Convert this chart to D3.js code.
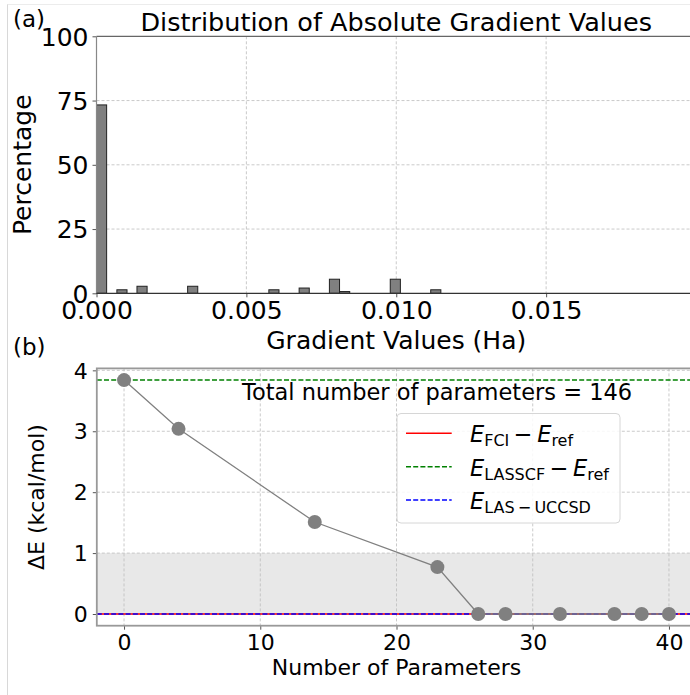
<!DOCTYPE html>
<html>
<head>
<meta charset="utf-8">
<script src="https://cdn.jsdelivr.net/npm/d3@7"></script>
<style>
  html, body { margin: 0; padding: 0; background: #fff; }
  svg { display: block; font-family: "DejaVu Sans", sans-serif; }
</style>
</head>
<body>
<svg id="chart" width="690" height="695"></svg>
<script>
// ---------- Data ----------
// (a) histogram of absolute gradient values
const binStarts = [0, 0.00068, 0.00135, 0.00304, 0.00575, 0.00676, 0.00777, 0.00811, 0.0098, 0.01115];
const binWidth = 0.000338;
const percentages = [73.3, 1.37, 2.74, 2.74, 1.37, 2.05, 5.48, 0.68, 5.48, 1.37];
const histXTicks = [0, 0.005, 0.010, 0.015];
const histYTicks = [0, 25, 50, 75, 100];

// (b) energy error vs number of parameters
const numParams = [0, 4, 14, 23, 26, 28, 32, 36, 38, 40];
const deltaE = [3.84, 3.04, 1.51, 0.77, 0, 0, 0, 0, 0, 0];
const fciLine = 0;
const lasscfLine = 3.84;
const lasUccsdLine = 0;
const chemAccBand = [0, 1];
const paramXTicks = [0, 10, 20, 30, 40];
const energyYTicks = [0, 1, 2, 3, 4];
const totalParams = 146;

// ---------- Setup ----------
const svg = d3.select("#chart");
const FONT = "DejaVu Sans, sans-serif";

// figure border (faint)
svg.append("line").attr("x1", 7.5).attr("x2", 7.5).attr("y1", 4).attr("y2", 695)
  .attr("stroke", "#d8d8d8").attr("stroke-width", 1);
svg.append("line").attr("x1", 7.5).attr("x2", 690).attr("y1", 4.5).attr("y2", 4.5)
  .attr("stroke", "#ececec").attr("stroke-width", 1);

const gridStyle = sel => sel.attr("stroke", "#bdbdbd").attr("stroke-width", 0.8)
  .attr("stroke-dasharray", "3,2");

// ---------- Panel (a) ----------
const A = {L: 96.5, R: 696, T: 36.3, B: 293.3};
const xa = d3.scaleLinear().domain([0, 0.02]).range([A.L, A.R]);
const ya = d3.scaleLinear().domain([0, 100]).range([A.B, A.T]);
const ga = svg.append("g");

// grid
ga.selectAll(".gx").data(histXTicks.slice(1)).enter().append("line")
  .attr("x1", d => xa(d)).attr("x2", d => xa(d)).attr("y1", A.T).attr("y2", A.B).call(gridStyle);
ga.selectAll(".gy").data(histYTicks.slice(1, 4)).enter().append("line")
  .attr("x1", A.L).attr("x2", A.R).attr("y1", d => ya(d)).attr("y2", d => ya(d)).call(gridStyle);

// bars
ga.selectAll(".bar").data(binStarts.map((s, i) => ({s, p: percentages[i]}))).enter().append("rect")
  .attr("x", d => xa(d.s)).attr("width", d => xa(d.s + binWidth) - xa(d.s))
  .attr("y", d => ya(d.p)).attr("height", d => ya(0) - ya(d.p))
  .attr("fill", "#808080").attr("stroke", "#222").attr("stroke-width", 1);

// axes
const axA_x = ga.append("g").attr("transform", `translate(0,${A.B})`)
  .call(d3.axisBottom(xa).tickValues(histXTicks).tickFormat(d3.format(".3f")).tickSize(4).tickPadding(5));
const axA_y = ga.append("g").attr("transform", `translate(${A.L},0)`)
  .call(d3.axisLeft(ya).tickValues(histYTicks).tickFormat(d3.format("d")).tickSize(4).tickPadding(4));
[axA_x, axA_y].forEach(ax => {
  ax.select(".domain").remove();
  ax.selectAll("text").attr("font-family", FONT).attr("font-size", 25).attr("fill", "#000");
  ax.selectAll(".tick line").attr("stroke", "#555");
});
axA_x.selectAll("text").attr("dy", null).attr("y", 26);
axA_y.selectAll("text").attr("dy", "0.35em");

// spines
ga.append("line").attr("x1", A.L).attr("x2", A.R).attr("y1", A.T).attr("y2", A.T).attr("stroke", "#666").attr("stroke-width", 1.2);
ga.append("line").attr("x1", A.L).attr("x2", A.L).attr("y1", A.T).attr("y2", A.B).attr("stroke", "#888").attr("stroke-width", 1.2);
ga.append("line").attr("x1", A.L).attr("x2", A.R).attr("y1", A.B).attr("y2", A.B).attr("stroke", "#333").attr("stroke-width", 1.2);

// labels
svg.append("text").attr("x", (A.L + A.R) / 2).attr("y", 30.5).attr("text-anchor", "middle")
  .attr("font-family", FONT).attr("font-size", 25.5).text("Distribution of Absolute Gradient Values");
svg.append("text").attr("x", (A.L + A.R) / 2).attr("y", 348.5).attr("text-anchor", "middle")
  .attr("font-family", FONT).attr("font-size", 25).text("Gradient Values (Ha)");
svg.append("text").attr("transform", `translate(31,${(A.T + A.B) / 2}) rotate(-90)`)
  .attr("text-anchor", "middle").attr("font-family", FONT).attr("font-size", 25).text("Percentage");
svg.append("text").attr("x", 13).attr("y", 27).attr("font-family", FONT).attr("font-size", 23).text("(a)");

// ---------- Panel (b) ----------
const Bp = {L: 96.8, R: 696.2, T: 368.4, B: 625.7};
const xb = d3.scaleLinear().domain([-2, 42]).range([Bp.L, Bp.R]);
const yb = d3.scaleLinear().domain([-0.192, 4.032]).range([Bp.B, Bp.T]);
const gb = svg.append("g");

// chemical accuracy band
gb.append("rect").attr("x", Bp.L).attr("width", Bp.R - Bp.L)
  .attr("y", yb(chemAccBand[1])).attr("height", yb(chemAccBand[0]) - yb(chemAccBand[1]))
  .attr("fill", "#e8e8e8");

// grid
gb.selectAll(".gx").data(paramXTicks).enter().append("line")
  .attr("x1", d => xb(d)).attr("x2", d => xb(d)).attr("y1", Bp.T).attr("y2", Bp.B).call(gridStyle);
gb.selectAll(".gy").data(energyYTicks).enter().append("line")
  .attr("x1", Bp.L).attr("x2", Bp.R).attr("y1", d => yb(d)).attr("y2", d => yb(d)).call(gridStyle);

// reference lines
gb.append("line").attr("x1", Bp.L).attr("x2", Bp.R).attr("y1", yb(fciLine)).attr("y2", yb(fciLine))
  .attr("stroke", "#ff0000").attr("stroke-width", 1.5);
gb.append("line").attr("x1", Bp.L).attr("x2", Bp.R).attr("y1", yb(lasscfLine)).attr("y2", yb(lasscfLine))
  .attr("stroke", "#008000").attr("stroke-width", 1.5).attr("stroke-dasharray", "5,2.2");
gb.append("line").attr("x1", Bp.L).attr("x2", Bp.R).attr("y1", yb(lasUccsdLine)).attr("y2", yb(lasUccsdLine))
  .attr("stroke", "#0000ff").attr("stroke-width", 1.5).attr("stroke-dasharray", "5,2.2");

// data line + markers
const pts = numParams.map((n, i) => [n, deltaE[i]]);
gb.append("path").datum(pts)
  .attr("d", d3.line().x(d => xb(d[0])).y(d => yb(d[1])))
  .attr("fill", "none").attr("stroke", "#808080").attr("stroke-width", 1.3);
gb.selectAll(".pt").data(pts).enter().append("circle")
  .attr("cx", d => xb(d[0])).attr("cy", d => yb(d[1])).attr("r", 7)
  .attr("fill", "#808080");

// axes
const axB_x = gb.append("g").attr("transform", `translate(0,${Bp.B})`)
  .call(d3.axisBottom(xb).tickValues(paramXTicks).tickFormat(d3.format("d")).tickSize(4).tickPadding(5));
const axB_y = gb.append("g").attr("transform", `translate(${Bp.L},0)`)
  .call(d3.axisLeft(yb).tickValues(energyYTicks).tickFormat(d3.format("d")).tickSize(4).tickPadding(5));
[axB_x, axB_y].forEach(ax => {
  ax.select(".domain").remove();
  ax.selectAll("text").attr("font-family", FONT).attr("font-size", 22).attr("fill", "#000");
  ax.selectAll(".tick line").attr("stroke", "#555");
});
axB_x.selectAll("text").attr("dy", null).attr("y", 24);
axB_y.selectAll("text").attr("dy", "0.35em");

// spines
gb.append("rect").attr("x", Bp.L).attr("y", Bp.T).attr("width", Bp.R - Bp.L).attr("height", Bp.B - Bp.T)
  .attr("fill", "none").attr("stroke", "#999").attr("stroke-width", 1.8);

// annotation
svg.append("text").attr("x", 242).attr("y", 400).attr("font-family", FONT).attr("font-size", 22.5)
  .text(`Total number of parameters = ${totalParams}`);

// labels
svg.append("text").attr("x", (Bp.L + Bp.R) / 2).attr("y", 675).attr("text-anchor", "middle")
  .attr("font-family", FONT).attr("font-size", 22).text("Number of Parameters");
svg.append("text").attr("transform", `translate(44,${(Bp.T + Bp.B) / 2}) rotate(-90)`)
  .attr("text-anchor", "middle").attr("font-family", FONT).attr("font-size", 22).text("ΔE (kcal/mol)");
svg.append("text").attr("x", 13).attr("y", 355).attr("font-family", FONT).attr("font-size", 23).text("(b)");

// legend
const leg = svg.append("g");
leg.append("rect").attr("x", 397).attr("y", 413.5).attr("width", 223).attr("height", 109.5)
  .attr("rx", 4).attr("fill", "#fff").attr("fill-opacity", 0.85)
  .attr("stroke", "#d6d6d6").attr("stroke-width", 1);
const legItems = [
  {color: "#ff0000", dash: null, main: "FCI", tail: "ref"},
  {color: "#008000", dash: "5,2.2", main: "LASSCF", tail: "ref"},
  {color: "#0000ff", dash: "5,2.2", main: "LAS\u2009\u2212\u2009UCCSD", tail: null}
];
legItems.forEach((it, i) => {
  const cy = 433.3 + i * 33.4;
  leg.append("line").attr("x1", 406).attr("x2", 451.7).attr("y1", cy).attr("y2", cy)
    .attr("stroke", it.color).attr("stroke-width", 1.5).attr("stroke-dasharray", it.dash);
  const t = leg.append("text").attr("x", 470).attr("y", cy + 9).attr("font-family", FONT).attr("font-size", 22.5);
  t.append("tspan").attr("font-style", "italic").text("E");
  t.append("tspan").attr("font-size", 16).attr("dy", 4).text(it.main);
  if (it.tail) {
    t.append("tspan").attr("dy", -4).text("\u2009\u2212\u2009");
    t.append("tspan").attr("font-style", "italic").text("E");
    t.append("tspan").attr("font-size", 16).attr("dy", 4).text(it.tail);
  }
});
</script>
</body>
</html>
